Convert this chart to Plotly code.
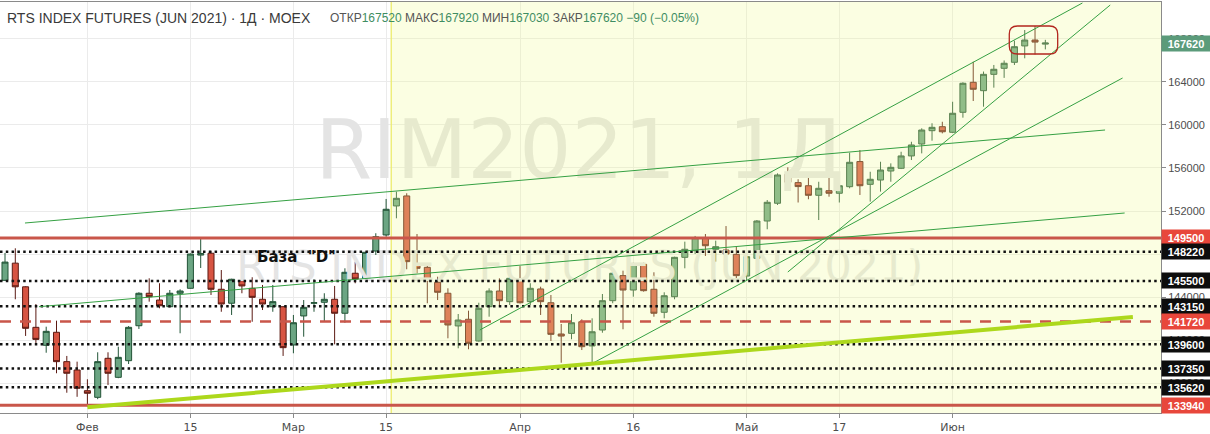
import pandas as pd
import plotly.graph_objects as go

# ---------------- data ----------------
holidays = ["2021-03-08", "2021-05-10", "2021-06-14"]
dates = [d.strftime("%Y-%m-%d") for d in pd.bdate_range("2021-01-20", "2021-06-15")
         if d.strftime("%Y-%m-%d") not in holidays]

opens = [145550, 147150, 144950, 141180, 139510, 140720, 137990, 137210, 135290, 134670,
         138300, 136530, 138080, 141330, 144350, 143720, 143100, 144350, 144810, 147900,
         148070, 144720, 143420, 145520, 144810, 143790, 143100, 143100, 139540, 142240,
         143420, 143510, 143790, 142490, 146210, 145740, 148280, 149770, 152470, 153400,
         147040, 146760, 145370, 144350, 141310, 141930, 139910, 143100, 144560, 143570,
         145650, 143570, 144750, 143470, 140560, 140620, 141700, 139450, 140930, 143660,
         145990, 144650, 147040, 144720, 142580, 144030, 147690, 148310, 149520, 148440,
         148370, 147970, 145950, 147600, 151070, 152720, 155410, 154640, 154350, 153460,
         153890, 153650, 154260, 156600, 154480, 154880, 155720, 155970, 157120, 158230,
         159470, 159840, 159320, 161180, 163970, 163190, 164710, 165270, 165830, 167350,
         167900, 167520]
highs = [148100, 148530, 145000, 143350, 141240, 141800, 138520, 137990, 136350, 138860,
         138860, 139380, 141300, 144440, 145740, 145280, 144650, 144720, 148050, 149500,
         148300, 146510, 145700, 145890, 145840, 145120, 145120, 143150, 142330, 143720,
         145650, 144350, 145030, 146670, 147290, 148200, 149930, 153120, 153800, 153650,
         149860, 147070, 145890, 144810, 142420, 142730, 143470, 144810, 145740, 146210,
         146880, 145280, 144960, 144190, 141490, 142420, 141930, 142020, 144280, 146450,
         146450, 147190, 147190, 146300, 144440, 147750, 149150, 149680, 149860, 149240,
         150600, 148680, 148370, 151160, 153020, 155500, 156060, 154950, 155500, 154720,
         155100, 155260, 157420, 157670, 155650, 156580, 156430, 157510, 158440, 159690,
         160160, 160300, 162160, 163970, 165880, 164970, 165580, 166000, 167840, 168830,
         169200, 167920]
lows = [145500, 143790, 140380, 139630, 138820, 136910, 135100, 134720, 133800, 134500,
        135820, 136450, 137770, 141030, 143570, 142950, 143040, 140630, 144780, 146700,
        144190, 142630, 142330, 144350, 141700, 142790, 142630, 138520, 138770, 140310,
        142630, 141700, 139600, 141610, 145280, 145420, 147910, 149610, 151320, 146580,
        146210, 143420, 143720, 140160, 139230, 139140, 139850, 142170, 143100, 143260,
        143400, 143260, 142330, 139910, 137890, 140070, 139070, 137840, 140680, 143420,
        141000, 144030, 144500, 142170, 142020, 143790, 146670, 148000, 147820, 147290,
        147510, 145580, 145580, 147290, 150300, 152560, 154110, 152790, 153090, 151160,
        153330, 152790, 154110, 153490, 152870, 153800, 154720, 155900, 156740, 157360,
        158540, 159220, 159250, 160680, 162230, 161700, 163470, 164380, 165580, 166200,
        166560, 167030]
closes = [147250, 144950, 141090, 140060, 140810, 137990, 136910, 135510, 135050, 137990,
          136910, 138390, 141180, 144350, 144030, 143190, 144350, 144560, 148000, 148050,
          144720, 143350, 145650, 145030, 143970, 143350, 143570, 139290, 141610, 143040,
          143470, 143790, 142490, 146300, 145680, 148160, 149610, 152160, 153180, 147290,
          146670, 145520, 144440, 141400, 141860, 139700, 142950, 144560, 143660, 145740,
          143470, 144810, 143570, 140530, 140370, 141610, 139380, 140770, 143660, 146210,
          144650, 147040, 144590, 142490, 144120, 147690, 148440, 149520, 148770, 148680,
          148000, 145990, 147750, 151070, 152810, 155350, 154670, 154270, 153460, 154110,
          153650, 154350, 156530, 154350, 154950, 155810, 156060, 157120, 158140, 159530,
          159780, 159370, 161090, 163880, 163320, 164710, 165180, 165740, 167280, 167900,
          167710, 167620]

tick_dates = ["2021-02-01", "2021-02-15", "2021-03-01", "2021-03-15", "2021-04-01",
              "2021-04-16", "2021-05-03", "2021-05-17", "2021-06-01"]
tick_text = ["Фев", "15", "Мар", "15", "Апр", "16", "Май", "17", "Июн"]

y_ticks = [136000, 140000, 144000, 148000, 152000, 156000, 160000, 164000, 168000]

levels = [149500, 148220, 145500, 143150, 141720, 139600, 137350, 135620, 133940]
level_kinds = ["solid", "dot", "dot", "dot", "dash", "dot", "dot", "dot", "solid"]

# drawn trend lines: (bar index, price) -> (bar index, price)
trend_lines = [
    ((1.94, 150884), (106.8, 159533)),
    ((3.3, 143100), (108.7, 151814)),
    ((46.1, 140933), (104.6, 171344)),
    ((57.1, 137864), (108.5, 164369)),
    ((76.0, 146327), (107.3, 171158)),
]
support_line = ((8.0, 133750), (109.5, 142142))
highlight_from = 37.5
focus_box = (97.5, 166601, 102.2, 169205)

title_text = "RTS INDEX FUTURES (JUN 2021) · 1Д · MOEX"
ohlc_names = ["ОТКР", "МАКС", "МИН", "ЗАКР"]
watermark_main = "RIM2021, 1Д"
watermark_sub = "RTS INDEX FUTURES (JUN 2021)"
base_label = 'База  "D"'

# ---------------- figure ----------------
x = list(range(len(dates)))
tick_pos = [dates.index(d) for d in tick_dates]

UP, UP_LINE = "#6ba583", "#225437"
DN, DN_LINE = "#d75442", "#5b1a13"
RED = "#c9564a"

fig = go.Figure()

# watermark (behind candles)
fig.add_trace(go.Scatter(x=[55.8], y=[157000], mode="text", text=[watermark_main],
                         textfont=dict(size=82, color="#e4e4e4", family="DejaVu Sans"),
                         hoverinfo="skip", showlegend=False))
fig.add_trace(go.Scatter(x=[55.8], y=[146500], mode="text", text=[watermark_sub],
                         textfont=dict(size=43, color="#e4e4e4", family="DejaVu Sans"),
                         hoverinfo="skip", showlegend=False))

fig.add_trace(go.Candlestick(
    x=x, open=opens, high=highs, low=lows, close=closes,
    increasing=dict(fillcolor=UP, line=dict(color=UP_LINE, width=1)),
    decreasing=dict(fillcolor=DN, line=dict(color=DN_LINE, width=1)),
    whiskerwidth=0, showlegend=False, hoverinfo="skip"))

shapes = []
# highlighted zone
shapes.append(dict(type="rect", xref="x", yref="paper", x0=highlight_from, x1=130, y0=0, y1=1,
                   fillcolor="rgba(242,250,150,0.28)", line=dict(width=0), layer="above"))
shapes.append(dict(type="line", xref="x", yref="paper", x0=highlight_from, x1=highlight_from,
                   y0=0, y1=1, line=dict(color="rgba(236,236,110,0.9)", width=1.5), layer="above"))

for lv, kind in zip(levels, level_kinds):
    if kind == "solid":
        ln = dict(color=RED, width=3)
    elif kind == "dash":
        ln = dict(color=RED, width=2.5, dash="11px,9px")
    else:
        ln = dict(color="#111111", width=2.5, dash="2.5px,3.3px")
    shapes.append(dict(type="line", xref="paper", yref="y", x0=0, x1=1, y0=lv, y1=lv,
                       line=ln, layer="above"))

for (a, b) in trend_lines:
    shapes.append(dict(type="line", xref="x", yref="y", x0=a[0], y0=a[1], x1=b[0], y1=b[1],
                       line=dict(color="#35a043", width=1), layer="above"))
shapes.append(dict(type="line", xref="x", yref="y", x0=support_line[0][0], y0=support_line[0][1],
                   x1=support_line[1][0], y1=support_line[1][1],
                   line=dict(color="#add81c", width=4), layer="above"))

bx0, by0, bx1, by1 = focus_box
rx, ry = 0.8, 750
path = (f"M {bx0+rx},{by1} L {bx1-rx},{by1} Q {bx1},{by1} {bx1},{by1-ry} "
        f"L {bx1},{by0+ry} Q {bx1},{by0} {bx1-rx},{by0} L {bx0+rx},{by0} "
        f"Q {bx0},{by0} {bx0},{by0+ry} L {bx0},{by1-ry} Q {bx0},{by1} {bx0+rx},{by1} Z")
shapes.append(dict(type="path", xref="x", yref="y", path=path,
                   line=dict(color="#b3261e", width=1.3), layer="above"))

annotations = []
# price boxes on the axis
box_colors = {"solid": "#e8473b", "dash": "#e8473b", "dot": "#0d0d0d"}
box_font = dict(color="white", size=11, family="Liberation Sans")
for lv, kind in zip(levels, level_kinds):
    annotations.append(dict(xref="paper", yref="y", x=1, y=lv, xanchor="left", yanchor="middle",
                            text=f"<b>{lv}</b>", showarrow=False, bgcolor=box_colors[kind],
                            font=box_font, width=44, height=11, borderpad=2,
                            align="center", xshift=0))
annotations.append(dict(xref="paper", yref="y", x=1, y=closes[-1], xanchor="left",
                        yanchor="middle", text=f"<b>{closes[-1]}</b>", showarrow=False,
                        bgcolor="#5b9b7a", font=box_font,
                        width=44, height=11, borderpad=2, align="center", xshift=0))

# header
annotations.append(dict(xref="paper", yref="paper", x=0.004, y=0.962, xanchor="left",
                        yanchor="middle", text=title_text, showarrow=False,
                        font=dict(size=14, color="#3a3a3a", family="Liberation Sans")))
chg = closes[-1] - closes[-2]
pct = chg / closes[-2] * 100
vals = [opens[-1], highs[-1], lows[-1], closes[-1]]
GRN = "#3f8d62"
parts = [f"{n}<span style='color:{GRN}'>{v}</span>" for n, v in zip(ohlc_names, vals)]
parts.append(f"<span style='color:{GRN}'>−{abs(chg)} (−{abs(pct):.2f}%)</span>")
annotations.append(dict(xref="paper", yref="paper", x=0.2825, y=0.962, xanchor="left",
                        yanchor="middle", text=" ".join(parts), showarrow=False,
                        font=dict(size=12, color="#555555", family="Liberation Sans")))

# base label
annotations.append(dict(xref="x", yref="y", x=24.3, y=147722, xanchor="left", yanchor="middle",
                        text=f"<b>{base_label}</b>", showarrow=False,
                        font=dict(size=15, color="#111111", family="DejaVu Sans")))

fig.update_layout(
    width=1210, height=434,
    margin=dict(l=0, r=49, t=2, b=21),
    paper_bgcolor="#ffffff", plot_bgcolor="#ffffff",
    showlegend=False, shapes=shapes, annotations=annotations,
    boxgap=0.2, boxgroupgap=0.27,
    xaxis=dict(range=[-0.485, 112.23], tickvals=tick_pos, ticktext=tick_text,
               showgrid=True, gridcolor="#ebebeb", zeroline=False,
               showline=True, linecolor="#8a8a8a", mirror=True,
               ticks="outside", ticklen=4, tickcolor="#8a8a8a",
               tickfont=dict(size=11, color="#4d4d4d", family="DejaVu Sans"),
               rangeslider=dict(visible=False), fixedrange=True),
    yaxis=dict(side="right", range=[133214, 171437], tickvals=y_ticks,
               ticktext=[str(v) for v in y_ticks],
               showgrid=True, gridcolor="#ebebeb", zeroline=False,
               showline=True, linecolor="#8a8a8a",
               ticks="outside", ticklen=4, tickcolor="#8a8a8a",
               tickfont=dict(size=11, color="#4d4d4d", family="Liberation Sans"),
               fixedrange=True),
)

fig.write_html("out.html", config={"displayModeBar": False},
               post_script="document.body.style.margin='0';document.body.style.padding='0';")
